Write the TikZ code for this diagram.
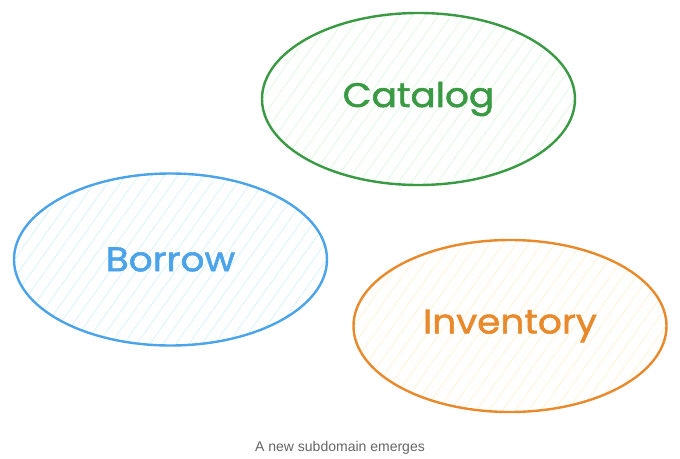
\documentclass[tikz,border=0pt]{standalone}
\usepackage{fontspec}
\setmainfont{Liberation Sans}
\newfontfamily\handfont[FakeBold=1.6, FakeStretch=1.1]{Poppins}
\definecolor{catgreen}{HTML}{3A9A44}
\definecolor{cathatch}{HTML}{B2F2BB}
\definecolor{borblue}{HTML}{4BA3EA}
\definecolor{borhatch}{HTML}{A5E4F5}
\definecolor{invorange}{HTML}{E8892B}
\definecolor{invhatch}{HTML}{FFE3A0}
\definecolor{captiongray}{HTML}{666666}
\usetikzlibrary{shapes.geometric}
\tikzset{
  domainshape/.style={ellipse, line width=2.4pt, minimum width=313pt, minimum height=172pt, inner sep=0pt},
  domaintext/.style={font=\handfont\fontsize{34}{34}\selectfont},
  hatchline/.style={line width=0.5pt, draw opacity=0.6},
  captiontext/.style={font=\fontsize{14}{16}\selectfont, text=captiongray}
}
% hatched fill for an ellipse centred at (#1,#2) in hatch colour #3
\newcommand{\hatchellipse}[3]{%
  \begin{scope}
    \clip (#1,#2) ellipse [x radius=156pt, y radius=86pt];
    \foreach \k in {-325,-312,...,325}
      \draw[hatchline, #3] ({#1+\k-120},{#2+170}) -- ({#1+\k+120},{#2-170});
  \end{scope}}
\begin{document}
\begin{tikzpicture}[x=1pt, y=-1pt]
  \useasboundingbox (0,0) rectangle (680,458);
  \fill[white] (0,0) rectangle (680,458);

  \hatchellipse{418.5}{99}{cathatch}
  \hatchellipse{170.5}{259.5}{borhatch}
  \hatchellipse{510}{326}{invhatch}

  \node[domainshape, draw=catgreen] (catalog) at (418.5,99) {};
  \node[domainshape, draw=borblue] (borrow) at (170.5,259.5) {};
  \node[domainshape, draw=invorange] (inventory) at (510,326) {};

  \node[domaintext, text=catgreen] (catalogtext) at (catalog.center) {Catalog};
  \node[domaintext, text=borblue] (borrowtext) at (borrow.center) {Borrow};
  \node[domaintext, text=invorange] (inventorytext) at (inventory.center) {Inventory};

  \node[captiontext] (cap) at (340,448) {A new subdomain emerges};
\end{tikzpicture}
\end{document}
